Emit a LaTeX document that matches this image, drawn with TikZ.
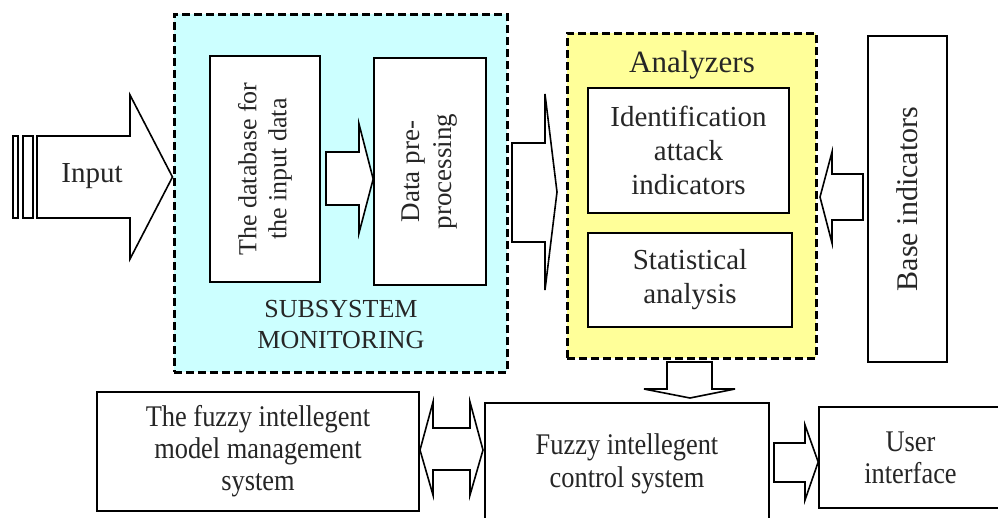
\documentclass[tikz,border=0pt]{standalone}
\usepackage{fontspec}
\setmainfont{Liberation Serif}
\newfontfamily\narrowfont[FakeStretch=0.88]{Liberation Serif}
\definecolor{monfill}{HTML}{CCFFFF}
\definecolor{anafill}{HTML}{FFFF99}
\begin{document}
\begin{tikzpicture}[x=1pt,y=-1pt,
    box/.style={draw,line width=1.6pt,fill=white,inner sep=0pt,align=center},
    group/.style={draw,line width=3pt,dash pattern=on 8pt off 4pt},
    fat/.style={draw,line width=1.6pt,fill=white,line join=miter},
    txt/.style={font=\fontsize{29}{34}\selectfont,text=black!85,align=center},
    narrow/.style={font=\narrowfont\fontsize{30}{32}\selectfont}]
    \useasboundingbox (0,0) rectangle (998,517);
    % dashed group frames
    \node[group,fill=monfill,minimum width=333pt,minimum height=358pt] (mon) at (340.5,193) {};
    \node[group,fill=anafill,minimum width=249pt,minimum height=325pt] (ana) at (691.5,195.5) {};
    \node[txt,font=\fontsize{26}{31}\selectfont] (montitle) at (341,325) {SUBSYSTEM\\MONITORING};
    \node[txt,font=\fontsize{31}{34}\selectfont] (anatitle) at (692,65) {Analyzers};
    % boxes inside the monitoring subsystem (vertical text)
    \node[box,minimum width=110pt,minimum height=226pt] (db) at (265,169) {};
    \node[txt,rotate=90,font=\fontsize{26}{30}\selectfont] at (db) {The database for\\the input data};
    \node[box,minimum width=112pt,minimum height=227pt] (pre) at (430,171.5) {};
    \node[txt,rotate=90,font=\fontsize{27}{32}\selectfont] at (pre) {Data pre-\\processing};
    % analyzers
    \node[box,txt,minimum width=201pt,minimum height=125pt] (ident) at (688.5,150.5) {Identification\\attack\\indicators};
    \node[box,txt,minimum width=204pt,minimum height=94pt] (stat) at (690,280) {Statistical\\analysis};
    \node[box,minimum width=79pt,minimum height=326pt] (base) at (907.5,199) {};
    \node[txt,rotate=90,font=\fontsize{30}{34}\selectfont] at (base) {Base indicators};
    % bottom row
    \node[box,txt,narrow,minimum width=322pt,minimum height=119pt] (model) at (258,451.5) {The fuzzy intellegent\\model management\\system};
    \node[box,txt,narrow,font=\narrowfont\fontsize{30}{33}\selectfont,minimum width=284pt,minimum height=122pt] (ctrl) at (627,464) {Fuzzy intellegent\\control system};
    \node[box,txt,narrow,minimum width=183pt,minimum height=101pt] (ui) at (910.5,457.5) {User\\interface};
    % block arrows
    \draw[fat] (13,136) rectangle (18,218);
    \draw[fat] (23,136) rectangle (33,218);
    \draw[fat] (37,136) -- (130,136) -- (130,95) -- (mon.west |- 0,177) -- (130,259) -- (130,218) -- (37,218) -- cycle;
    \node[txt] (input) at (92,176) {Input};
    \draw[fat] (326,152) -- (359,152) -- (359,124) -- (pre.west |- 0,179) -- (359,233) -- (359,205) -- (326,205) -- cycle;
    \draw[fat] (512,143) -- (545,143) -- (545,94) -- (557,192) -- (545,290) -- (545,242) -- (512,242) -- cycle;
    \draw[fat] (863,174) -- (832,174) -- (832,152) -- (820,197) -- (832,243) -- (832,220) -- (863,220) -- cycle;
    \draw[fat] (667,362) -- (667,389) -- (644,389) -- (690,398) -- (735,389) -- (712,389) -- (712,362) -- cycle;
    \draw[fat] (420,450) -- (433,402) -- (433,428) -- (470,428) -- (470,402) -- (483,450)
        -- (470,495) -- (470,470) -- (433,470) -- (433,495) -- cycle;
    \draw[fat] (774,443) -- (805,443) -- (805,425) -- (ui.west |- 0,462) -- (805,500) -- (805,482) -- (774,482) -- cycle;
\end{tikzpicture}
\end{document}
